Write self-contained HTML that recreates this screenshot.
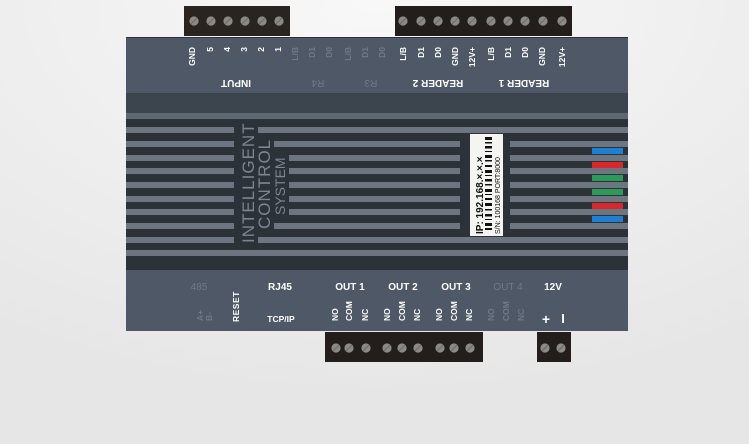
<!DOCTYPE html>
<html><head><meta charset="utf-8"><style>
html,body{margin:0;padding:0;width:749px;height:444px;overflow:hidden;background:#ededed}
svg{display:block}
text{font-family:"Liberation Sans",sans-serif;font-weight:bold}
</style></head><body>
<svg width="749" height="444" viewBox="0 0 749 444" xmlns="http://www.w3.org/2000/svg">
<defs>
<radialGradient id="bg" cx="0.5" cy="0" r="0.9">
<stop offset="0" stop-color="#f8f8f8"/><stop offset="1" stop-color="#e6e6e6"/>
</radialGradient>
<g id="scr"><circle r="4.6" fill="#8d8a86"/><line x1="-3" y1="3" x2="3" y2="-3" stroke="#6f6b67" stroke-width="1.2"/></g>
</defs>
<rect width="749" height="444" fill="url(#bg)"/>
<!-- top connectors -->
<rect x="184" y="6" width="106" height="30" fill="#2a2421"/>
<rect x="395" y="6" width="177" height="30" fill="#231e1c"/>
<g>
<use href="#scr" x="194" y="21"/><use href="#scr" x="211" y="21"/><use href="#scr" x="228" y="21"/><use href="#scr" x="245" y="21"/><use href="#scr" x="262" y="21"/><use href="#scr" x="279" y="21"/>
<use href="#scr" x="403" y="21"/><use href="#scr" x="421" y="21"/><use href="#scr" x="438" y="21"/><use href="#scr" x="455" y="21"/><use href="#scr" x="472" y="21"/><use href="#scr" x="491" y="21"/><use href="#scr" x="508" y="21"/><use href="#scr" x="525" y="21"/><use href="#scr" x="543" y="21"/><use href="#scr" x="562" y="21"/>
</g>
<!-- bottom connectors -->
<rect x="325" y="332" width="158" height="30" fill="#231e1c"/>
<rect x="537" y="332" width="34" height="30" fill="#231e1c"/>
<g>
<use href="#scr" x="336" y="348"/><use href="#scr" x="349" y="348"/><use href="#scr" x="366" y="348"/>
<use href="#scr" x="387" y="348"/><use href="#scr" x="402" y="348"/><use href="#scr" x="418" y="348"/>
<use href="#scr" x="440" y="348"/><use href="#scr" x="454" y="348"/><use href="#scr" x="470" y="348"/>
<use href="#scr" x="545" y="348"/><use href="#scr" x="561" y="348"/>
</g>
<!-- board -->
<rect x="126" y="37" width="502" height="294" fill="#2b3238"/>
<rect x="126" y="38" width="502" height="55" fill="#4e5866"/>
<rect x="126" y="93" width="502" height="20" fill="#3c444e"/>
<rect x="126" y="113" width="502" height="6" fill="#5e6873"/>
<rect x="126" y="270" width="502" height="61" fill="#4e5866"/>
<!-- stripes -->
<g fill="#6c7580">
<rect x="126" y="127" width="502" height="6"/>
<rect x="126" y="141" width="502" height="6"/>
<rect x="126" y="155" width="502" height="6"/>
<rect x="126" y="168" width="502" height="6"/>
<rect x="126" y="182" width="502" height="6"/>
<rect x="126" y="196" width="502" height="6"/>
<rect x="126" y="209" width="502" height="6"/>
<rect x="126" y="223" width="502" height="6"/>
<rect x="126" y="237" width="502" height="6"/>
<rect x="126" y="250" width="502" height="6"/>
</g>
<rect x="234" y="124" width="24" height="122" fill="#2b3238"/>
<rect x="257" y="138" width="17" height="94" fill="#2b3238"/>
<rect x="273" y="152" width="16" height="66" fill="#2b3238"/>
<rect x="460" y="138" width="50" height="94" fill="#2b3238"/>
<rect x="470" y="134" width="33" height="102" fill="#f4f4f2"/>
<g fill="#7c8691" font-size="17" font-weight="normal">
<text transform="translate(254,243) rotate(-90)" style="font-weight:normal;letter-spacing:1px">INTELLIGENT</text>
<text transform="translate(270,229) rotate(-90)" style="font-weight:normal;letter-spacing:1px">CONTROL</text>
<text transform="translate(285,215) rotate(-90)" style="font-weight:normal;font-size:14px">SYSTEM</text>
</g>
<!-- label -->
<g fill="#111">
<text transform="translate(483,234) rotate(-90)" font-size="10">IP: 192.168.×.×.×</text>
<text transform="translate(500,234) rotate(-90)" font-size="7" style="font-weight:normal">S/N: 100168   PORT:8000</text>
<g transform="translate(485,235)">
<rect x="0" y="-98" width="7" height="3"/><rect x="0" y="-93" width="7" height="1.5"/><rect x="0" y="-89" width="7" height="2.5"/><rect x="0" y="-84" width="7" height="1"/><rect x="0" y="-80" width="7" height="3"/><rect x="0" y="-75" width="7" height="1.5"/><rect x="0" y="-70" width="7" height="2"/><rect x="0" y="-65" width="7" height="3"/><rect x="0" y="-60" width="7" height="1"/><rect x="0" y="-56" width="7" height="2.5"/><rect x="0" y="-51" width="7" height="1.5"/><rect x="0" y="-46" width="7" height="3"/><rect x="0" y="-41" width="7" height="1"/><rect x="0" y="-37" width="7" height="2"/><rect x="0" y="-32" width="7" height="3"/><rect x="0" y="-26" width="7" height="1.5"/><rect x="0" y="-21" width="7" height="2.5"/><rect x="0" y="-16" width="7" height="1"/><rect x="0" y="-12" width="7" height="3"/><rect x="0" y="-7" width="7" height="2"/>
</g>
</g>
<!-- LEDs -->
<rect x="592" y="148" width="31" height="6" fill="#1f7fd0"/>
<rect x="592" y="162" width="31" height="6" fill="#d8282a"/>
<rect x="592" y="175" width="31" height="6" fill="#2b9a5a"/>
<rect x="592" y="189" width="31" height="6" fill="#2b9a5a"/>
<rect x="592" y="203" width="31" height="6" fill="#d8282a"/>
<rect x="592" y="216" width="31" height="6" fill="#1f7fd0"/>
<!-- top labels -->
<g font-size="8.5" fill="#fff" text-anchor="end">
<text transform="translate(195,47) rotate(-90)">GND</text>
<text transform="translate(213,47) rotate(-90)">5</text>
<text transform="translate(230,47) rotate(-90)">4</text>
<text transform="translate(247,47) rotate(-90)">3</text>
<text transform="translate(264,47) rotate(-90)">2</text>
<text transform="translate(281,47) rotate(-90)">1</text>
<g fill="#6f7a87" style="font-weight:normal">
<text transform="translate(298,47) rotate(-90)">L/B</text>
<text transform="translate(315,47) rotate(-90)">D1</text>
<text transform="translate(332,47) rotate(-90)">D0</text>
<text transform="translate(351,47) rotate(-90)">L/B</text>
<text transform="translate(368,47) rotate(-90)">D1</text>
<text transform="translate(385,47) rotate(-90)">D0</text>
</g>
<text transform="translate(406,47) rotate(-90)">L/B</text>
<text transform="translate(424,47) rotate(-90)">D1</text>
<text transform="translate(441,47) rotate(-90)">D0</text>
<text transform="translate(458,47) rotate(-90)">GND</text>
<text transform="translate(475,47) rotate(-90)">12V+</text>
<text transform="translate(494,47) rotate(-90)">L/B</text>
<text transform="translate(511,47) rotate(-90)">D1</text>
<text transform="translate(528,47) rotate(-90)">D0</text>
<text transform="translate(545,47) rotate(-90)">GND</text>
<text transform="translate(565,47) rotate(-90)">12V+</text>
</g>
<g font-size="10" fill="#fff" text-anchor="middle">
<text transform="translate(236,80) rotate(180)">INPUT</text>
<text transform="translate(318,80) rotate(180)" fill="#6f7a87" style="font-weight:normal">R4</text>
<text transform="translate(371,80) rotate(180)" fill="#6f7a87" style="font-weight:normal">R3</text>
<text transform="translate(438,80) rotate(180)">READER 2</text>
<text transform="translate(524,80) rotate(180)">READER 1</text>
</g>
<!-- bottom labels -->
<g font-size="10" fill="#fff" text-anchor="middle">
<text x="199" y="290" fill="#6f7a87" style="font-weight:normal">485</text>
<text x="280" y="290">RJ45</text>
<text x="350" y="290">OUT 1</text>
<text x="403" y="290">OUT 2</text>
<text x="456" y="290">OUT 3</text>
<text x="508" y="290" fill="#6f7a87" style="font-weight:normal">OUT 4</text>
<text x="553" y="290">12V</text>
<text x="281" y="322" font-size="8.5">TCP/IP</text>
<text x="546" y="324" font-size="14">+</text>
<text x="563" y="323" font-size="13">I</text>
</g>
<g font-size="8.5" fill="#fff">
<text transform="translate(239,322) rotate(-90)" style="letter-spacing:0.5px">RESET</text>
<g fill="#6f7a87" style="font-weight:normal">
<text transform="translate(203,321) rotate(-90)">A+</text>
<text transform="translate(212,321) rotate(-90)">B-</text>
<text transform="translate(494,321) rotate(-90)">NO</text>
<text transform="translate(509,321) rotate(-90)">COM</text>
<text transform="translate(524,321) rotate(-90)">NC</text>
</g>
<text transform="translate(338,321) rotate(-90)">NO</text>
<text transform="translate(352,321) rotate(-90)">COM</text>
<text transform="translate(368,321) rotate(-90)">NC</text>
<text transform="translate(390,321) rotate(-90)">NO</text>
<text transform="translate(405,321) rotate(-90)">COM</text>
<text transform="translate(420,321) rotate(-90)">NC</text>
<text transform="translate(442,321) rotate(-90)">NO</text>
<text transform="translate(457,321) rotate(-90)">COM</text>
<text transform="translate(472,321) rotate(-90)">NC</text>
</g>
</svg>
</body></html>
